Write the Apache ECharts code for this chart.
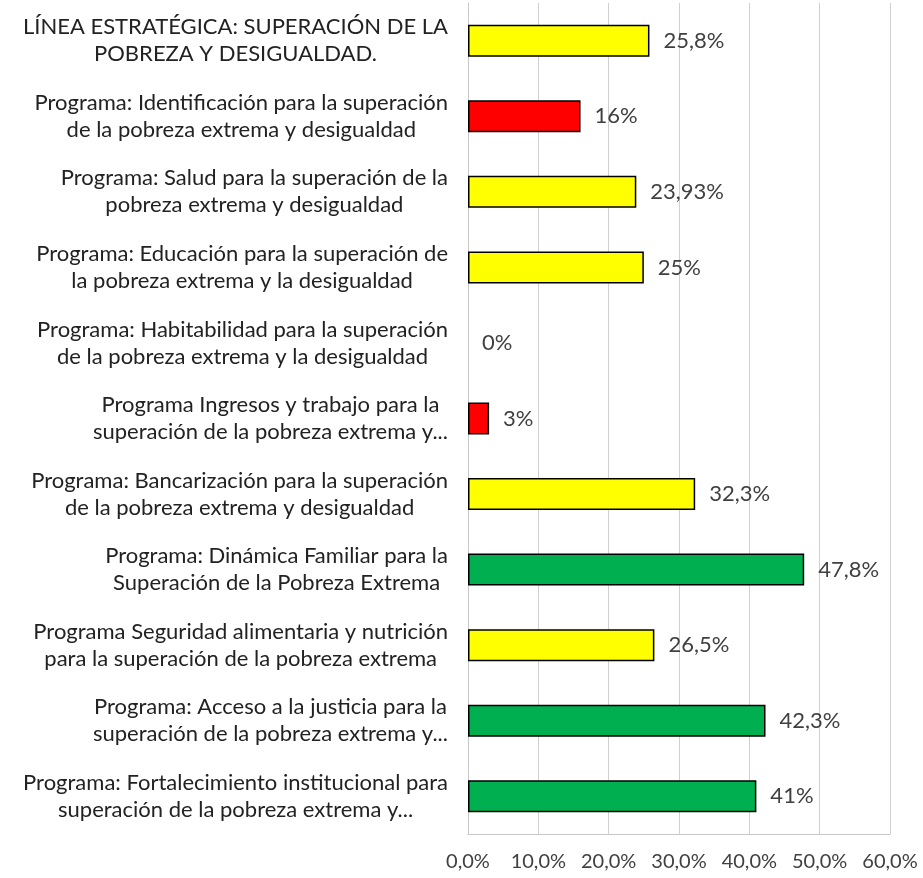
<!DOCTYPE html>
<html lang="es">
<head>
    <meta charset="UTF-8">
    <title>Superación de la pobreza</title>
    <script src="https://cdn.jsdelivr.net/npm/echarts@6/dist/echarts.min.js"></script>
</head>
<style>
    * {
        margin: 0px;
        padding: 0px;
    }
    html , body {
        width: 100%;
        height: 100%;
        overflow: hidden;
        background: #fff;
    }
    .container{
        width: 923px;
        height: 878px;
    }
</style>
<body>
    <div class="container"></div>
</body>
<script>
    // categorias de arriba hacia abajo
    let categories = [
        'LÍNEA ESTRATÉGICA: SUPERACIÓN DE LA\nPOBREZA Y DESIGUALDAD.',
        'Programa: Identificación para la superación\nde la pobreza extrema y desigualdad',
        'Programa: Salud para la superación de la\npobreza extrema y desigualdad',
        'Programa: Educación para la superación de\nla pobreza extrema y la desigualdad',
        'Programa: Habitabilidad para la superación\nde la pobreza extrema y la desigualdad',
        'Programa Ingresos y trabajo para la\nsuperación de la pobreza extrema y...',
        'Programa: Bancarización para la superación\nde la pobreza extrema y desigualdad',
        'Programa: Dinámica Familiar para la\nSuperación de la Pobreza Extrema',
        'Programa Seguridad alimentaria y nutrición\npara la superación de la pobreza extrema',
        'Programa: Acceso a la justicia para la\nsuperación de la pobreza extrema y...',
        'Programa: Fortalecimiento institucional para\nsuperación de la pobreza extrema y...'
    ];
    let values = [25.8, 16, 23.93, 25, 0, 3, 32.3, 47.8, 26.5, 42.3, 41];
    let colors = ['#FFFF00', '#FF0000', '#FFFF00', '#FFFF00', '#FFFF00', '#FF0000',
        '#FFFF00', '#00B050', '#FFFF00', '#00B050', '#00B050'];
    let xTicks = [0, 10, 20, 30, 40, 50, 60];

    let font = 'Lato, "Open Sans", sans-serif';
    let container = document.querySelector(".container");
    let mycharts = echarts.init(container);

    let option = {
        animation: false,
        grid: {
            left: 468,
            right: 33,
            top: 3,
            bottom: 44
        },
        xAxis: {
            type: 'value',
            min: xTicks[0],
            max: xTicks[xTicks.length - 1],
            interval: 10,
            axisLine: {show: true, lineStyle: {color: '#c8c8c8', width: 1}},
            axisTick: {show: false},
            splitLine: {lineStyle: {color: '#d0d0d0', width: 1}},
            axisLabel: {
                margin: 18,
                color: '#404040',
                fontSize: 20,
                fontFamily: font,
                formatter: v => v.toFixed(1).replace('.', ',') + '%'
            }
        },
        yAxis: {
            type: 'category',
            inverse: true,
            data: categories,
            axisLine: {show: true, lineStyle: {color: '#c8c8c8', width: 1}},
            axisTick: {show: false},
            axisLabel: {
                margin: 20,
                color: '#222',
                fontSize: 22,
                fontFamily: font,
                lineHeight: 27,
                formatter: v => v.split('\n').map(s => '{c|' + s + '}').join('\n'),
                rich: {
                    c: {align: 'center', fontSize: 22, fontFamily: font, lineHeight: 27, color: '#222'}
                }
            }
        },
        series: [{
            type: 'bar',
            barWidth: 32,
            data: values.map((v, i) => ({
                value: v,
                itemStyle: {color: colors[i], borderColor: '#000', borderWidth: v > 0 ? 1.5 : 0}
            })),
            label: {
                show: true,
                position: 'right',
                distance: 14,
                color: '#404040',
                fontSize: 22,
                fontFamily: font,
                formatter: p => String(p.value).replace('.', ',') + '%'
            }
        }]
    };
    mycharts.setOption(option);
</script>
</html>
